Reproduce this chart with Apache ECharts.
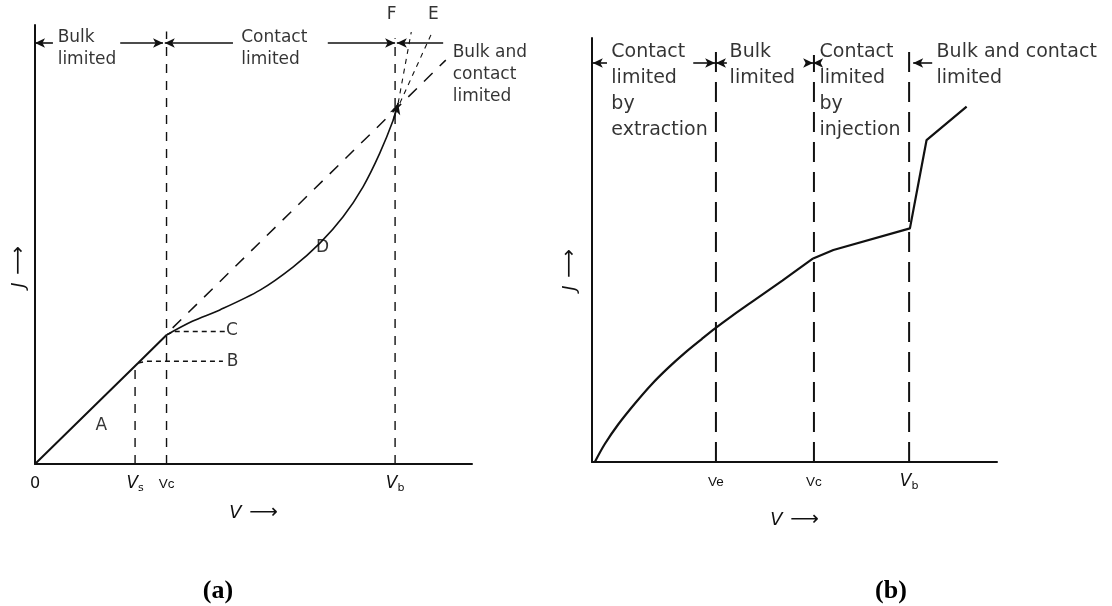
<!DOCTYPE html>
<html><head><meta charset="utf-8">
<script src="https://cdn.jsdelivr.net/npm/echarts@6/dist/echarts.min.js"></script>
<style>html,body{margin:0;padding:0;background:#fff}#c{width:1112px;height:606px}</style>
</head><body><div id="c"></div>
<script>
// ---------------- Panel (a) data ----------------
const aTickValues = [0, 22.9, 30.1, 82.4];
const aTickLabels = ['0', 'Vs', 'Vc', 'Vb'];
const aCurveA = [[0, 0], [23.6, 23.0], [30.1, 29.4]];
const aCurveD = [[30.1, 29.4], [36.0, 32.5], [42.3, 35.1], [51.5, 39.6], [59.1, 44.9], [65.2, 50.3], [70.5, 56.3], [75.1, 63.2], [78.9, 70.8], [82.0, 78.4], [83.1, 82.2]];
const aLineB = [[23.6, 23.0], [25.5, 23.4], [43.0, 23.4]];
const aLineC = [[30.1, 29.4], [31.8, 30.2], [43.5, 30.2]];
const aExtension = [[31.5, 31.0], [94.0, 92.0]];
const aLineF = [[83.1, 82.2], [86.1, 98.4]];
const aLineE = [[83.5, 82.2], [90.9, 98.4]];
const aGuideX = [22.9, 30.1, 82.4];
const aGuideTop = [22.3, 98.5, 97.0];
const aRegionY = 95.9;
const aRegionArrows = [[0, 4.1, 'start'], [19.5, 29.3, 'end'], [29.7, 45.3, 'start'], [67.0, 82.4, 'end'], [82.8, 93.4, 'start']];
const aRegionTexts = [[5.3, 99.6, 'Bulk\nlimited'], [47.3, 99.6, 'Contact\nlimited'], [95.7, 96.0, 'Bulk and\ncontact\nlimited']];
const aLetters = [[15.3, 8.7, 'A'], [45.3, 23.2, 'B'], [45.2, 30.3, 'C'], [65.9, 49.1, 'D'], [81.7, 102.3, 'F'], [91.3, 102.3, 'E']];

// ---------------- Panel (b) data ----------------
const bTickValues = [30.6, 54.8, 78.3];
const bTickLabels = ['Ve', 'Vc', 'Vb'];
const bCurveSmooth = [[0.7, 0], [3.2, 4.3], [6.5, 8.9], [10.6, 13.8], [14.7, 18.3], [18.8, 22.2], [23.0, 25.8], [27.1, 29.0], [30.4, 31.5], [34.5, 34.4], [39.4, 37.7], [47.0, 42.8], [54.6, 48.0]];
const bCurveStraight = [[54.6, 48.0], [59.6, 50.0], [78.5, 55.1], [82.6, 75.9], [92.5, 83.8]];
const bGuideX = [30.6, 54.8, 78.3];
const bGuideTop = [99.0, 96.0, 98.8];
const bRegionY = 94.1;
const bRegionArrows = [[0.2, 3.7, 'start'], [25.0, 30.4, 'end'], [30.6, 33.3, 'start'], [52.8, 54.6, 'end'], [54.6, 56.0, 'start'], [79.3, 84.0, 'start']];
const bRegionTexts = [[4.9, 99.6, 'Contact\nlimited\nby\nextraction'], [34.1, 99.6, 'Bulk\nlimited'], [56.3, 99.6, 'Contact\nlimited\nby\ninjection'], [85.2, 99.6, 'Bulk and contact\nlimited']];

// ---------------- helpers ----------------
const INK = '#111';
const FONT = 'DejaVu Sans';
function styleTick(lbl) {
  if (lbl === '0') return '{n|0}';
  if (/^V[sb]$/.test(lbl)) return '{i|V}{sub|' + lbl[1] + '}';
  return '{s|' + lbl + '}';
}
const tickRich = {
  n: { fontFamily: FONT, fontSize: 16, color: INK, lineHeight: 20 },
  i: { fontFamily: FONT, fontStyle: 'italic', fontSize: 17, color: INK, lineHeight: 20 },
  sub: { fontFamily: FONT, fontSize: 11, color: INK, verticalAlign: 'bottom', lineHeight: 12 },
  s: { fontFamily: 'Liberation Sans', fontSize: 13.5, color: INK, lineHeight: 20 }
};
const nameRich = {
  i: { fontFamily: FONT, fontStyle: 'italic', fontSize: 18, color: INK },
  a: { fontFamily: FONT, fontSize: 20, color: INK }
};
function xAxisDef(gi, ticks, labels, gap) {
  return {
    type: 'value', gridIndex: gi, min: 0, max: 100,
    axisLine: { show: true, onZero: false, lineStyle: { color: INK, width: 2 } },
    axisTick: { show: false }, splitLine: { show: false },
    axisLabel: {
      show: true, customValues: ticks, margin: 10, rich: tickRich,
      formatter: v => { const k = ticks.findIndex(t => Math.abs(t - v) < 1e-6); return k < 0 ? '' : styleTick(labels[k]); }
    },
    name: '{i|V}  {a|⟶}', nameLocation: 'middle', nameGap: gap,
    nameTextStyle: { rich: nameRich, verticalAlign: 'top' }
  };
}
function yAxisDef(gi, gap, shift) {
  return {
    type: 'value', gridIndex: gi, min: 0, max: 100,
    axisLine: { show: true, onZero: false, lineStyle: { color: INK, width: 2 } },
    axisTick: { show: false }, splitLine: { show: false }, axisLabel: { show: false },
    name: '{i|J}  {a|⟶}', nameLocation: 'middle', nameRotate: 90, nameGap: gap,
    nameTextStyle: { rich: nameRich, padding: [0, shift, 0, 0] }
  };
}
function lineS(gi, data, width, dash, extra) {
  return Object.assign({
    type: 'line', xAxisIndex: gi, yAxisIndex: gi, data: data, symbol: 'none', clip: false,
    lineStyle: { color: INK, width: width, type: dash || 'solid' }, silent: true, z: 3
  }, extra || {});
}
function guides(gi, xs, tops, width, dash) {
  return xs.map((x, k) => lineS(gi, [[x, 0], [x, tops[k]]], width, dash));
}
function arrowsS(gi, y, arr) {
  return {
    type: 'line', xAxisIndex: gi, yAxisIndex: gi, data: [], symbol: 'none', silent: true,
    markLine: {
      silent: true, animation: false, symbolSize: [7, 10],
      lineStyle: { color: INK, width: 1.6, type: 'solid' }, label: { show: false },
      data: arr.map(([x1, x2, side]) => [
        { coord: [x1, y], symbol: side === 'start' ? 'arrow' : 'none' },
        { coord: [x2, y], symbol: side === 'end' ? 'arrow' : 'none' }
      ])
    }
  };
}
function textS(gi, items, size, lh, align, vAlign) {
  return {
    type: 'scatter', xAxisIndex: gi, yAxisIndex: gi, symbolSize: 1, silent: true, clip: false,
    itemStyle: { color: 'rgba(0,0,0,0)' },
    data: items.map(([x, y, t]) => ({ value: [x, y], name: t })),
    label: {
      show: true, formatter: '{b}', position: [0, 0], align: align, verticalAlign: vAlign,
      fontFamily: FONT, fontSize: size, lineHeight: lh, color: '#000'
    }, z: 5
  };
}

const series = [].concat(
  // panel (a)
  guides(0, aGuideX, aGuideTop, 1.4, [9, 8]),
  [
    lineS(0, aCurveA, 2),
    lineS(0, aCurveD, 1.6, 'solid', { smooth: 0.3 }),
    lineS(0, aLineB, 1.5, [5, 4]),
    lineS(0, aLineC, 1.5, [5, 4]),
    lineS(0, aExtension, 1.5, [12, 10]),
    lineS(0, aLineF, 1.1, [5, 5]),
    lineS(0, aLineE, 1.1, [5, 5]),
    {
      type: 'line', xAxisIndex: 0, yAxisIndex: 0, data: [], symbol: 'none', silent: true,
      markLine: { silent: true, animation: false, symbolSize: [8, 11], lineStyle: { color: INK, width: 1.6, type: 'solid' }, label: { show: false },
        data: [[{ coord: aCurveD[aCurveD.length - 2], symbol: 'none' }, { coord: aCurveD[aCurveD.length - 1], symbol: 'arrow' }]] }
    },
    arrowsS(0, aRegionY, aRegionArrows),
    textS(0, aRegionTexts, 17, 22, 'left', 'top'),
    textS(0, aLetters, 17, 20, 'center', 'middle')
  ],
  // panel (b)
  guides(1, bGuideX, bGuideTop, 2, [20, 10]),
  [
    lineS(1, bCurveSmooth, 2.2, 'solid', { smooth: 0.35 }),
    lineS(1, bCurveStraight, 2.2),
    arrowsS(1, bRegionY, bRegionArrows),
    textS(1, bRegionTexts, 19, 26, 'left', 'top')
  ]
);

const chart = echarts.init(document.getElementById('c'), null, { renderer: 'canvas' });
chart.setOption({
  animation: false,
  backgroundColor: '#fff',
  textStyle: { fontFamily: FONT },
  title: [
    { text: '(a)', left: 213, top: 573, textAlign: 'center', textStyle: { fontFamily: 'Liberation Serif', fontWeight: 'bold', fontSize: 26, color: '#000' } },
    { text: '(b)', left: 886, top: 573, textAlign: 'center', textStyle: { fontFamily: 'Liberation Serif', fontWeight: 'bold', fontSize: 26, color: '#000' } }
  ],
  grid: [
    { left: 35, top: 25, width: 437, height: 439 },
    { left: 592, top: 38, width: 405, height: 424 }
  ],
  xAxis: [xAxisDef(0, aTickValues, aTickLabels, 39), xAxisDef(1, bTickValues, bTickLabels, 48)],
  yAxis: [yAxisDef(0, 6, 45), yAxisDef(1, 12, 40)],
  series: series
});
</script></body></html>
